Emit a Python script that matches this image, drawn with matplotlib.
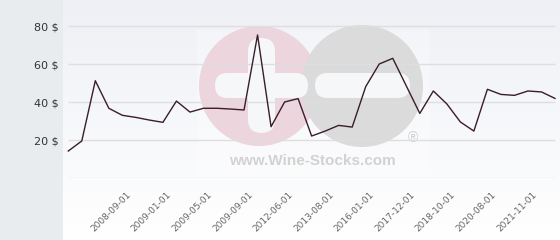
import numpy as np
import matplotlib
matplotlib.use("Agg")
import matplotlib.pyplot as plt
from matplotlib.patches import Circle, FancyBboxPatch, Rectangle
from matplotlib.transforms import ScaledTranslation

# prix moyen par millésime / date de vente
prices = [14.2, 19.5, 51.2, 36.7, 33.0, 31.9, 30.5, 29.3, 40.5, 34.7,
          36.7, 36.7, 36.3, 35.8, 75.3, 27.0, 40.0, 41.8, 22.1, 24.7,
          27.7, 26.8, 48.1, 60.0, 63.0, 48.5, 34.0, 45.8, 39.0, 29.5,
          24.7, 46.7, 44.0, 43.5, 45.8, 45.3, 41.9]

# seules les dates affichées sont connues
label_pos = [4, 7, 10, 13, 16, 19, 22, 25, 28, 31, 34]
label_text = ["2008-09-01", "2009-01-01", "2009-05-01", "2009-09-01",
              "2012-06-01", "2013-08-01", "2016-01-01", "2017-12-01",
              "2018-10-01", "2020-08-01", "2021-11-01"]

y_ticks = [20, 40, 60, 80]
grid_vals = [0, 20, 40, 60, 80]


def main():
    W, H = 560, 240
    fig = plt.figure(figsize=(W / 100, H / 100), dpi=100)

    # fond, panneau gauche et filigrane (coordonnées en pixels)
    bg = fig.add_axes([0, 0, 1, 1])
    bg.set_xlim(0, W)
    bg.set_ylim(H, 0)
    bg.axis("off")
    bg.add_patch(Rectangle((0, 0), 63, H, color="#e8ecef", lw=0))
    grad = np.linspace(0, 1, 256)[:, None]
    cmap = matplotlib.colors.LinearSegmentedColormap.from_list(
        "bg", ["#eef0f5", "#ffffff"])
    bg.imshow(grad, cmap=cmap, extent=(63, W, H, 0), aspect="auto", zorder=0)

    bg.add_patch(Rectangle((197, 30), 233, 145, color="white", alpha=0.3,
                           lw=0, zorder=1))
    bg.add_patch(Circle((259, 86), 60, color="#ecd5dc", lw=0, zorder=2))
    bg.add_patch(Circle((362, 86), 61, color="#dbdbdb", lw=0, zorder=3))
    hole = "#f6f7f9"
    for x0, y0, w, h in [(215, 73, 93, 25), (248, 38, 27, 95), (315, 73, 95, 25)]:
        r = min(w, h) / 2
        bg.add_patch(FancyBboxPatch((x0 + r, y0 + r), w - 2 * r, h - 2 * r,
                                    boxstyle="round,pad=%f" % r,
                                    color=hole, lw=0, zorder=4))
    bg.text(312, 161, "www.Wine-Stocks.com", ha="center", va="center",
            fontsize=11, fontweight="bold", family="Liberation Sans",
            color="#d2d2d2", zorder=5)
    bg.text(413, 138, "\u00ae", ha="center", va="center", fontsize=10,
            family="Liberation Sans", color="#cfcfcf", zorder=5)

    # graphique
    ax = fig.add_axes([63 / W, (H - 178) / H, (W - 63) / W, 178 / H])
    ax.patch.set_alpha(0)
    n = len(prices)
    x = np.arange(n)
    for g in grid_vals:
        ax.hlines(g, 0, n - 1, color="#dedede", lw=1, zorder=1)
    ax.plot(x, prices, color="#3a1c2c", lw=1, zorder=3)

    ax.set_xlim(-0.39, n - 1 + 0.37)
    ax.set_ylim(0, 93.7)
    for s in ax.spines.values():
        s.set_visible(False)

    ax.set_yticks(y_ticks)
    ax.set_yticklabels(["%d $" % v for v in y_ticks], fontsize=8, color="#333333")
    ax.tick_params(axis="y", length=0, pad=3)

    ax.set_xticks(label_pos)
    ax.set_xticklabels(label_text, fontsize=6.5, color="#666666",
                       rotation=45, ha="right", va="top",
                       rotation_mode="anchor")
    ax.tick_params(axis="x", length=0, pad=9)
    off = ScaledTranslation(4 / 100, 0, fig.dpi_scale_trans)
    for lab in ax.get_xticklabels():
        lab.set_transform(lab.get_transform() + off)

    fig.savefig("out.png", dpi=100)


if __name__ == "__main__":
    main()
